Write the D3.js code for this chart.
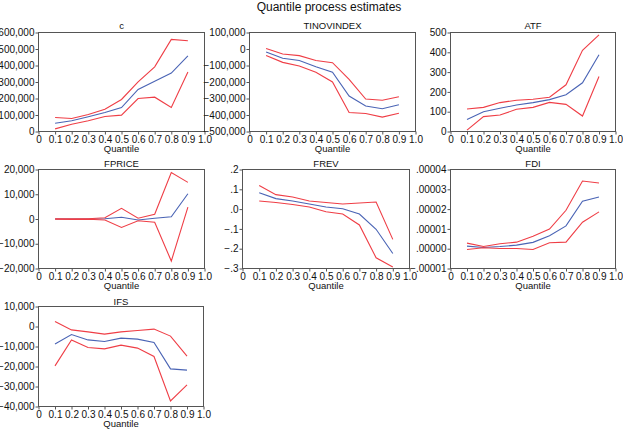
<!DOCTYPE html>
<html><head><meta charset="utf-8">
<script src="https://cdn.jsdelivr.net/npm/d3@7"></script>
<style>
body{margin:0;background:#fff;}
svg{display:block;font-family:"Liberation Sans",Arial,sans-serif;}
</style></head>
<body>
<svg id="chart" width="623" height="431"></svg>
<script>
// ---- data ----
const quantiles = [0.1,0.2,0.3,0.4,0.5,0.6,0.7,0.8,0.9];
const xTicks = [0,0.1,0.2,0.3,0.4,0.5,0.6,0.7,0.8,0.9,1.0];
const xTickLabels = ["0","0.1","0.2","0.3","0.4","0.5","0.6","0.7","0.8","0.9","1.0"];
const panelNames = ["c","TINOVINDEX","ATF","FPRICE","FREV","FDI","IFS"];

const cEst   = [50000,65000,89000,115000,145000,255000,305000,354000,459000];
const cUpper = [85000,79000,103000,135000,194000,301000,392000,558000,550000];
const cLower = [16000,44000,65000,91000,99000,200000,208000,145000,360000];

const tinEst   = [-18000,-56000,-70000,-107000,-141000,-285000,-346000,-362000,-338000];
const tinUpper = [3000,-30000,-40000,-70000,-83000,-184000,-303000,-311000,-289000];
const tinLower = [-40000,-81000,-103000,-141000,-200000,-385000,-391000,-413000,-389000];

const atfEst   = [61,100,117,134,146,161,186,246,388];
const atfUpper = [114,122,146,158,163,173,236,410,488];
const atfLower = [7,75,83,112,122,147,137,78,278];

const fpriceEst   = [0,0,0,100,700,-400,300,900,10200];
const fpriceUpper = [100,100,100,500,4300,300,1900,18800,14800];
const fpriceLower = [-100,-200,-100,-400,-3400,-700,-1300,-17000,4800];

const frevEst   = [0.083,0.053,0.041,0.026,0.011,0.002,-0.025,-0.102,-0.224];
const frevUpper = [0.119,0.073,0.061,0.041,0.033,0.026,0.031,0.036,-0.153];
const frevLower = [0.041,0.033,0.023,0.011,-0.013,-0.025,-0.080,-0.246,-0.292];

const fdiEst   = [0.0000013,0.0000006,0.0000011,0.0000018,0.0000032,0.0000065,0.0000115,0.0000240,0.0000261];
const fdiUpper = [0.0000028,0.0000011,0.0000025,0.0000033,0.0000063,0.0000099,0.0000194,0.0000342,0.0000332];
const fdiLower = [-0.0000004,0.0000005,0.0000001,0.0000001,-0.0000004,0.0000030,0.0000033,0.0000134,0.0000186];

const ifsEst   = [-8700,-4000,-6700,-7500,-5800,-6300,-8000,-21200,-21800];
const ifsUpper = [2500,-1700,-2700,-3800,-2700,-2000,-1300,-4800,-14800];
const ifsLower = [-19700,-6700,-10500,-11200,-9300,-10800,-15000,-37200,-29200];

const cTicks = [0,100000,200000,300000,400000,500000,600000];
const tinTicks = [-500000,-400000,-300000,-200000,-100000,0,100000];
const atfTicks = [0,100,200,300,400,500];
const fpriceTicks = [-20000,-10000,0,10000,20000];
const frevTicks = [-0.3,-0.2,-0.1,0,0.1,0.2];
const fdiTicks = [-0.00001,0,0.00001,0.00002,0.00003,0.00004];
const ifsTicks = [-40000,-30000,-20000,-10000,0,10000];

// ---- formats ----
const minus = s => s.replace("-", "\u2212");
const commaFmt = v => minus(d3.format(",")(Math.round(v)).replace("\u2212","-"));
const decFmt = digits => v => {
  let s = Math.abs(v).toFixed(digits).replace(/^0/, "");
  return (v < -1e-12 ? "\u2212" : "") + s;
};

// ---- layout (positions only) ----
const panels = [
  {name:panelNames[0], est:cEst, up:cUpper, lo:cLower, ticks:cTicks, fmt:commaFmt, l:38.5, r:204.5, t:32.5, b:131.5, tOff:4},
  {name:panelNames[1], est:tinEst, up:tinUpper, lo:tinLower, ticks:tinTicks, fmt:commaFmt, l:249.5, r:415.5, t:32.5, b:131.5, tOff:4},
  {name:panelNames[2], est:atfEst, up:atfUpper, lo:atfLower, ticks:atfTicks, fmt:commaFmt, l:450.5, r:615.5, t:32.5, b:131.5, tOff:4},
  {name:panelNames[3], est:fpriceEst, up:fpriceUpper, lo:fpriceLower, ticks:fpriceTicks, fmt:commaFmt, l:38.5, r:204.5, t:169.5, b:268.5, tOff:2.5},
  {name:panelNames[4], est:frevEst, up:frevUpper, lo:frevLower, ticks:frevTicks, fmt:decFmt(1), l:242.5, r:409.5, t:169.5, b:268.5, tOff:2.5},
  {name:panelNames[5], est:fdiEst, up:fdiUpper, lo:fdiLower, ticks:fdiTicks, fmt:decFmt(5), l:450.5, r:615.5, t:169.5, b:268.5, tOff:2.5},
  {name:panelNames[6], est:ifsEst, up:ifsUpper, lo:ifsLower, ticks:ifsTicks, fmt:commaFmt, l:38.5, r:203.5, t:306.5, b:406.5, tOff:2}
];

const svg = d3.select("#chart");
const frameColor = "#555";
const redColor = "#ef3e46";
const blueColor = "#4a64b5";

svg.append("text")
  .attr("x", 329).attr("y", 10.5)
  .attr("text-anchor","middle")
  .attr("font-size","12px").attr("fill","#111")
  .text("Quantile process estimates");

panels.forEach(p => {
  const g = svg.append("g");
  const x = d3.scaleLinear().domain([0,1]).range([p.l, p.r]);
  const y = d3.scaleLinear().domain([p.ticks[0], p.ticks[p.ticks.length-1]]).range([p.b, p.t]);

  // axes
  const xAxis = d3.axisBottom(x).tickValues(xTicks)
    .tickFormat((d,i) => xTickLabels[i]).tickSizeOuter(0).tickSize(3).tickPadding(1);
  const yAxis = d3.axisLeft(y).tickValues(p.ticks)
    .tickFormat(p.fmt).tickSizeOuter(0).tickSize(3).tickPadding(1);

  const gx = g.append("g").attr("transform", `translate(0,${p.b})`).call(xAxis);
  const gy = g.append("g").attr("transform", `translate(${p.l},0)`).call(yAxis);
  [gx, gy].forEach(a => {
    a.select(".domain").remove();
    a.selectAll("line").attr("stroke", frameColor);
    a.selectAll("text").attr("font-size","10px").attr("fill","#111")
      .attr("font-family","'Liberation Sans',Arial,sans-serif");
  });

  // frame
  g.append("rect")
    .attr("x", p.l).attr("y", p.t)
    .attr("width", p.r - p.l).attr("height", p.b - p.t)
    .attr("fill","none").attr("stroke", frameColor).attr("stroke-width",1);

  // lines
  const line = d3.line().x((d,i) => x(quantiles[i])).y(d => y(d));
  g.append("path").datum(p.est).attr("d", line)
    .attr("fill","none").attr("stroke", blueColor).attr("stroke-width",1.1);
  [p.up, p.lo].forEach(arr => {
    g.append("path").datum(arr).attr("d", line)
      .attr("fill","none").attr("stroke", redColor).attr("stroke-width",1.1);
  });

  // titles
  g.append("text")
    .attr("x", (p.l + p.r)/2).attr("y", p.t - p.tOff)
    .attr("text-anchor","middle").attr("font-size","9.5px").attr("fill","#111")
    .text(p.name);
  g.append("text")
    .attr("x", (p.l + p.r)/2).attr("y", p.b + 20.5)
    .attr("text-anchor","middle").attr("font-size","9.5px").attr("fill","#111")
    .text("Quantile");
});
</script>
</body></html>
